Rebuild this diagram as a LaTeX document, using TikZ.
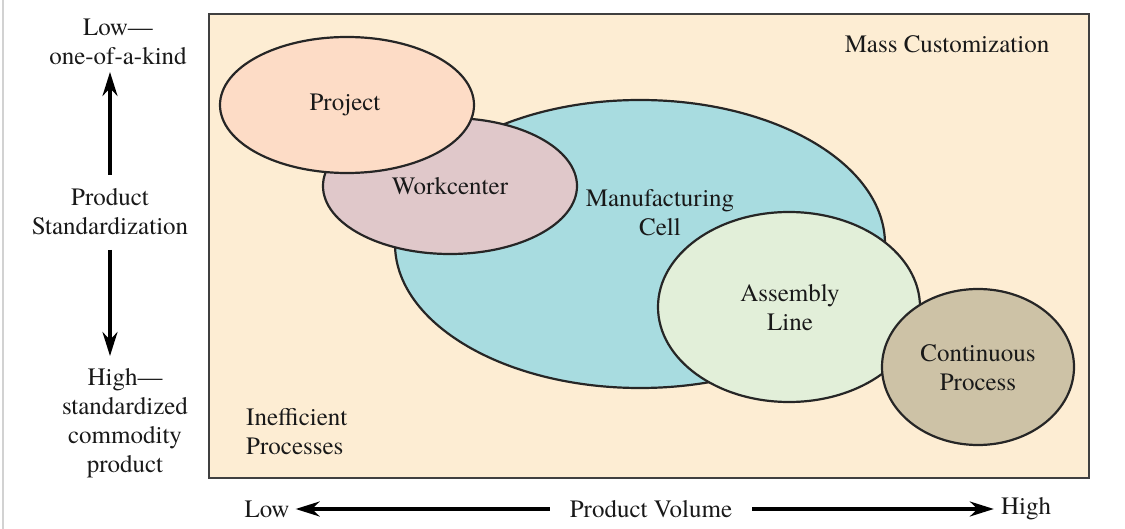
\documentclass[tikz,border=0pt]{standalone}
\usepackage{fontspec}
\setmainfont{TeX Gyre Termes}
\usetikzlibrary{shapes.geometric,arrows.meta}
\definecolor{bgpeach}{HTML}{FDEDD3}
\definecolor{prcol}{HTML}{FDDCC6}
\definecolor{wccol}{HTML}{E0C8CA}
\definecolor{mccol}{HTML}{A8DCE0}
\definecolor{alcol}{HTML}{E2EFD9}
\definecolor{cpcol}{HTML}{CDC2A6}
\begin{document}
\begin{tikzpicture}[x=1pt,y=-1pt,
  oval/.style={ellipse,draw=black!85,line width=2.2pt,inner sep=0pt},
  lbl/.style={font=\fontsize{25}{29}\selectfont,align=center,inner sep=0pt,text=black!90},
  arr/.style={-{Stealth[length=24pt,width=15pt]},line width=3.2pt}]
\useasboundingbox (0,0) rectangle (1125,529);
\fill[white] (0,0) rectangle (1125,529);
\draw[gray!35,line width=1.5pt] (3,0) -- (3,529);
\node[draw=black!75,line width=2.4pt,fill=bgpeach,minimum width=880pt,minimum height=464pt,inner sep=0pt,anchor=north west] (frame) at (208,13) {};
% ellipses
\node[oval,fill=mccol,minimum width=490pt,minimum height=288pt] (mc) at (640,244) {};
\node[oval,fill=wccol,minimum width=254pt,minimum height=136pt] (wc) at (450,186) {};
\node[oval,fill=prcol,minimum width=254pt,minimum height=136pt] (pr) at (347,105) {};
\node[oval,fill=alcol,minimum width=262pt,minimum height=190pt] (al) at (789,307) {};
\node[oval,fill=cpcol,minimum width=192pt,minimum height=156pt] (cp) at (978,367) {};
% labels
\node[lbl] (prl) at (345,105) {Project};
\node[lbl] (wcl) at (450,186) {Workcenter};
\node[lbl] (mcl) at (660,213) {Manufacturing\\Cell};
\node[lbl] (all) at (790,308) {Assembly\\Line};
\node[lbl] (cpl) at (978,368) {Continuous\\Process};
\node[lbl] (mass) at (947,44) {Mass Customization};
\node[lbl,align=left,anchor=west] (ineff) at (246,432) {Inefficient\\Processes};
% left axis
\node[lbl] (low) at (118,42) {Low—\\one-of-a-kind};
\node[lbl] (psd) at (110,212) {Product\\Standardization};
\node[lbl] (high) at (125,423) {High—\\standardized\\commodity\\product};
\coordinate (ua) at (110,175);
\coordinate (ub) at (110,72);
\coordinate (da) at (110,250);
\coordinate (db) at (110,356);
\draw[arr] (ua) -- (ub);
\draw[arr] (da) -- (db);
% bottom axis
\node[lbl] (lowx) at (267,509) {Low};
\node[lbl] (pv) at (651,509) {Product Volume};
\node[lbl] (highx) at (1026,509) {High};
\draw[arr] ([xshift=-20pt]pv.west) -- ([xshift=6pt]lowx.east);
\draw[arr] ([xshift=20pt]pv.east) -- ([xshift=-7pt]highx.west);
\end{tikzpicture}
\end{document}
